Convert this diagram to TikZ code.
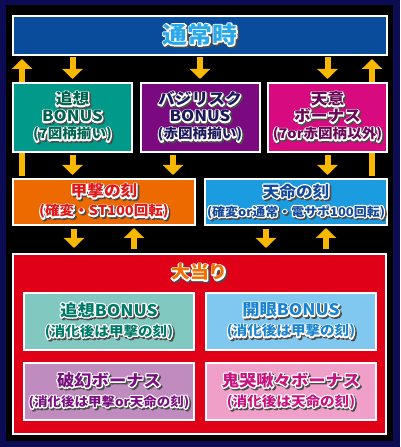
\documentclass[tikz,border=0pt]{standalone}
\usepackage{fontspec}
\setmainfont{Noto Sans CJK JP}[FakeStretch=1.08]
\usepackage{tikz}
\usetikzlibrary{arrows.meta, positioning, backgrounds}
\definecolor{framenavy}{HTML}{0C0C55}
\definecolor{flowgold}{HTML}{F8B800}
\definecolor{normalblue}{HTML}{0A4C9C}
\definecolor{normalcyan}{HTML}{2AA8EA}
\definecolor{tsuisofill}{HTML}{00998A}
\definecolor{tsuisotext}{HTML}{006450}
\definecolor{basfill}{HTML}{7B0A80}
\definecolor{bastext}{HTML}{1C1A5C}
\definecolor{tenifill}{HTML}{D80A80}
\definecolor{tenitext}{HTML}{6A0858}
\definecolor{kougekifill}{HTML}{EC6A00}
\definecolor{kougekitext}{HTML}{E01818}
\definecolor{tenmeifill}{HTML}{1C9CE0}
\definecolor{tenmeitext}{HTML}{134A9A}
\definecolor{oatarired}{HTML}{E00018}
\definecolor{oataritext}{HTML}{F07000}
\definecolor{tbonusfill}{HTML}{80C8C0}
\definecolor{tbonustext}{HTML}{007A68}
\definecolor{kbonusfill}{HTML}{80C8F0}
\definecolor{kbonustext}{HTML}{1A84D0}
\definecolor{hbonusfill}{HTML}{C08CC0}
\definecolor{hbonustext}{HTML}{7A1080}
\definecolor{kkbonusfill}{HTML}{F0A0C8}
\definecolor{kkbonustext}{HTML}{C8147E}

% stroked copy of a text (white rim / dark shadow)
\newcommand{\rim}[1]{\special{pdf:literal direct 2 Tr 2.6 w 1 j}#1\special{pdf:literal direct 0 Tr}}
% outlined label with drop shadow
\newcommand{\deco}[2]{%
  \makebox[0pt][l]{\hspace*{1.6pt}\raisebox{-1.6pt}{\color{black!70}\rim{#2}}}%
  \makebox[0pt][l]{\color{white}\rim{#2}}%
  {\color{#1}#2}}

\begin{document}
\begin{tikzpicture}[
    x=1pt, y=1pt,
    font=\bfseries,
    statebox/.style={draw=white, line width=2pt, inner sep=0pt, outer sep=0pt, align=center},
    rowtwo/.style={statebox, minimum width=119pt, minimum height=69pt,
                   font=\bfseries\fontsize{15.5}{17}\selectfont},
    rowthree/.style={statebox, minimum width=182pt, minimum height=46pt,
                     font=\bfseries\fontsize{15.5}{19}\selectfont},
    innerbox/.style={statebox, minimum width=170pt, minimum height=57pt,
                     font=\bfseries\fontsize{16}{20}\selectfont},
    flowdown/.style={draw=flowgold, line width=6pt, -{Triangle[width=20pt,length=10pt]}},
    flowup/.style={flowdown}
]

\node[statebox, fill=normalblue, minimum width=374pt, minimum height=39pt,
      font=\bfseries\fontsize{23}{25}\selectfont] (normal) at (200,411.5) {\deco{normalcyan}{通常時}};

% second row
\node[rowtwo, fill=basfill, below=28pt of normal] (basilisk) {%
    \deco{bastext}{バジリスク}\\\deco{bastext}{BONUS}\\
    {\fontsize{13.5}{17}\selectfont\deco{bastext}{(赤図柄揃い)}}};
\node[rowtwo, fill=tsuisofill, left=8.5pt of basilisk] (tsuiso) {%
    \deco{tsuisotext}{追想}\\\deco{tsuisotext}{BONUS}\\
    {\fontsize{13.5}{17}\selectfont\deco{tsuisotext}{(7図柄揃い)}}};
\node[rowtwo, fill=tenifill, right=8.5pt of basilisk] (teni) {%
    \deco{tenitext}{天意}\\\deco{tenitext}{ボーナス}\\
    {\fontsize{13.5}{17}\selectfont\deco{tenitext}{(7or赤図柄以外)}}};

% third row
\node[rowthree, fill=kougekifill, below=27pt of tsuiso.south west, anchor=north west] (kougeki) {%
    \deco{kougekitext}{甲撃の刻}\\
    {\fontsize{13.5}{19}\selectfont\deco{kougekitext}{(確変・ST100回転)}}};
\node[rowthree, fill=tenmeifill, right=10pt of kougeki] (tenmei) {%
    \deco{tenmeitext}{天命の刻}\\
    {\fontsize{12}{19}\selectfont\deco{tenmeitext}{(確変or通常・電サポ100回転)}}};

% jackpot block
\node[statebox, fill=oatarired, minimum width=373pt, minimum height=180pt,
      below=29pt of kougeki.south west, anchor=north west] (oatari) {};
\node[font=\bfseries\fontsize{17.5}{19}\selectfont] (oatarititle) at ([yshift=-19pt]oatari.north)
    {\deco{oataritext}{大当り}};
\node[innerbox, fill=tbonusfill, below right=39pt and 11pt of oatari.north west] (tbonus) {%
    \deco{tbonustext}{追想BONUS}\\
    {\fontsize{13.5}{20}\selectfont\deco{tbonustext}{(消化後は甲撃の刻)}}};
\node[innerbox, fill=kbonusfill, right=12pt of tbonus] (kbonus) {%
    \deco{kbonustext}{開眼BONUS}\\
    {\fontsize{13.5}{20}\selectfont\deco{kbonustext}{(消化後は甲撃の刻)}}};
\node[innerbox, fill=hbonusfill, below=13pt of tbonus] (hbonus) {%
    \deco{hbonustext}{破幻ボーナス}\\
    {\fontsize{12.5}{20}\selectfont\deco{hbonustext}{(消化後は甲撃or天命の刻)}}};
\node[innerbox, fill=kkbonusfill, right=12pt of hbonus] (kkbonus) {%
    \deco{kkbonustext}{鬼哭啾々ボーナス}\\
    {\fontsize{13.5}{20}\selectfont\deco{kkbonustext}{(消化後は天命の刻)}}};

\begin{scope}[on background layer]
    \fill[framenavy] (0,0) rectangle (400,447);
    \fill[black] (5.5,6) rectangle (393,441.5);
    % normal -> first bonuses
    \foreach \b in {tsuiso, basilisk, teni}
        \draw[flowdown, shorten <=2pt, shorten >=4pt] (\b.north |- normal.south) -- (\b.north);
    % long returns to normal
    \draw[flowup, shorten <=3pt, shorten >=4pt] ([xshift=9pt]kougeki.north west)
        -- ([xshift=9pt]kougeki.north west |- normal.south);
    \draw[flowup, shorten <=3pt, shorten >=4pt] ([xshift=-15pt]tenmei.north east)
        -- ([xshift=-15pt]tenmei.north east |- normal.south);
    % first bonuses -> time modes
    \draw[flowdown, shorten <=3pt, shorten >=4pt] (tsuiso.south) -- (tsuiso.south |- kougeki.north);
    \draw[flowdown, shorten <=3pt, shorten >=4pt] ([xshift=-27pt]basilisk.south)
        -- ([xshift=-27pt]basilisk.south |- kougeki.north);
    \draw[flowdown, shorten <=3pt, shorten >=4pt] (teni.south) -- (teni.south |- tenmei.north);
    % time modes <-> jackpot
    \draw[flowdown, shorten <=4pt, shorten >=6pt] ([xshift=-30pt]kougeki.south)
        -- ([xshift=-30pt]kougeki.south |- oatari.north);
    \draw[flowup, shorten <=5pt, shorten >=3pt] ([xshift=30pt]kougeki.south |- oatari.north)
        -- ([xshift=30pt]kougeki.south);
    \draw[flowdown, shorten <=4pt, shorten >=6pt] ([xshift=-30pt]tenmei.south)
        -- ([xshift=-30pt]tenmei.south |- oatari.north);
    \draw[flowup, shorten <=5pt, shorten >=3pt] ([xshift=30pt]tenmei.south |- oatari.north)
        -- ([xshift=30pt]tenmei.south);
\end{scope}

\end{tikzpicture}
\end{document}
